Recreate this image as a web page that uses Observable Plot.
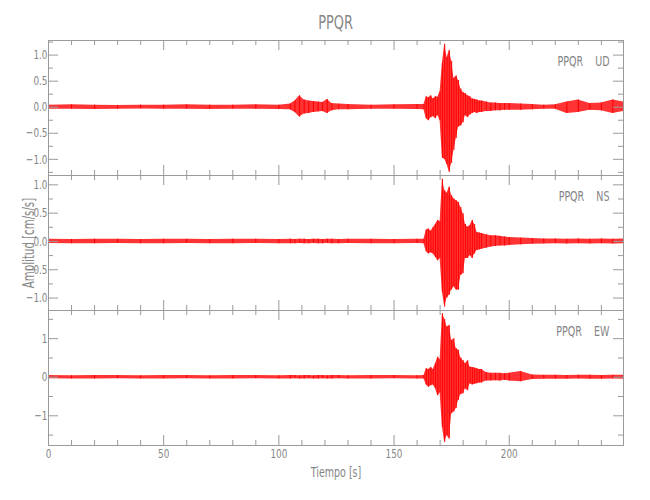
<!DOCTYPE html>
<html><head><meta charset="utf-8">
<script src="https://cdn.jsdelivr.net/npm/d3@7"></script>
<script src="https://cdn.jsdelivr.net/npm/@observablehq/plot@0.6"></script>
<style>
body{margin:0;background:#fff;}
#chart{position:relative;width:650px;height:500px;font-family:"DejaVu Sans",sans-serif;}
#chart svg{position:absolute;left:0;overflow:visible;}
#title{position:absolute;left:48px;width:575px;top:10px;line-height:24px;text-align:center;font-size:19px;color:#888;}
#title span{display:inline-block;transform:scaleX(0.68);transform-origin:center;}
</style></head><body>
<div id="chart"><div id="title"><span></span></div></div>
<script>
// ---- data ----
const station = "PPQR";
const components = ["UD", "NS", "EW"];
const xLabel = "Tiempo [s]";
const yLabel = "Amplitud [cm/s/s]";
const xMax = 249.6;
// time of each envelope sample [s]
const T = [0,10,20,30,40,50,60,70,80,90,100,
  105,107,109,111,113,115,117,119,121,123,
  126,130,140,150,160,163,
  164,165,166,167,168,169,170,171,172,173,174,175,176,177,178,179,180,181,182,183,184,185,186,187,188,
  190,192,194,196,198,200,
  205,210,215,220,225,230,235,240,245,249.6];
// UD envelope (max / min)
const udHi = [0.04,0.045,0.04,0.035,0.04,0.04,0.045,0.04,0.04,0.045,0.04,
  0.06,0.12,0.22,0.14,0.12,0.11,0.10,0.09,0.15,0.07,
  0.06,0.05,0.04,0.045,0.05,0.05,
  0.20,0.18,0.22,0.16,0.20,0.19,0.30,0.85,1.21,0.95,1.09,0.88,0.55,0.60,0.51,0.35,0.28,0.26,0.22,0.20,0.16,0.15,0.14,0.12,0.12,
  0.10,0.08,0.08,0.07,0.07,0.07,
  0.06,0.05,0.04,0.045,0.10,0.14,0.07,0.08,0.14,0.10];
const udLo = [-0.04,-0.04,-0.045,-0.04,-0.035,-0.04,-0.04,-0.045,-0.04,-0.04,-0.045,
  -0.05,-0.10,-0.19,-0.13,-0.12,-0.10,-0.09,-0.08,-0.12,-0.07,
  -0.05,-0.05,-0.04,-0.04,-0.045,-0.05,
  -0.22,-0.26,-0.20,-0.18,-0.22,-0.16,-0.26,-0.98,-1.00,-1.10,-1.25,-1.08,-0.83,-0.60,-0.38,-0.36,-0.30,-0.16,-0.20,-0.15,-0.12,-0.10,-0.12,-0.10,-0.10,
  -0.08,-0.08,-0.07,-0.07,-0.06,-0.06,
  -0.06,-0.05,-0.04,-0.04,-0.12,-0.10,-0.06,-0.07,-0.12,-0.08];
// NS envelope
const nsHi = [0.04,0.035,0.04,0.04,0.035,0.04,0.04,0.035,0.04,0.04,0.035,
  0.04,0.035,0.04,0.04,0.035,0.04,0.04,0.035,0.04,0.04,
  0.035,0.04,0.04,0.035,0.04,0.04,
  0.20,0.22,0.18,0.24,0.30,0.37,0.35,1.10,0.90,0.85,0.96,0.81,0.75,0.72,0.69,0.60,0.49,0.30,0.25,0.28,0.37,0.30,0.16,0.15,0.14,
  0.12,0.10,0.10,0.09,0.08,0.07,
  0.06,0.05,0.045,0.045,0.04,0.045,0.04,0.045,0.04,0.045];
const nsLo = [-0.035,-0.04,-0.04,-0.035,-0.04,-0.04,-0.035,-0.04,-0.04,-0.035,-0.04,
  -0.04,-0.04,-0.035,-0.04,-0.04,-0.035,-0.04,-0.04,-0.035,-0.04,
  -0.04,-0.035,-0.04,-0.04,-0.035,-0.04,
  -0.18,-0.22,-0.20,-0.22,-0.28,-0.34,-0.30,-0.90,-1.16,-1.00,-0.95,-0.86,-0.80,-0.86,-0.86,-0.60,-0.57,-0.30,-0.30,-0.25,-0.30,-0.22,-0.16,-0.15,-0.14,
  -0.12,-0.10,-0.09,-0.08,-0.08,-0.07,
  -0.06,-0.05,-0.045,-0.04,-0.045,-0.04,-0.045,-0.04,-0.045,-0.04];
// EW envelope
const ewHi = [0.045,0.04,0.045,0.045,0.04,0.045,0.045,0.04,0.045,0.045,0.04,
  0.045,0.045,0.04,0.045,0.045,0.04,0.045,0.045,0.04,0.045,
  0.045,0.04,0.045,0.045,0.04,0.045,
  0.22,0.20,0.25,0.20,0.35,0.52,0.45,1.65,1.50,1.30,1.34,0.95,1.00,0.74,0.70,0.50,0.43,0.35,0.43,0.26,0.25,0.24,0.22,0.20,0.20,
  0.12,0.10,0.10,0.10,0.09,0.10,
  0.15,0.06,0.05,0.05,0.045,0.05,0.05,0.045,0.05,0.05];
const ewLo = [-0.04,-0.045,-0.045,-0.04,-0.045,-0.045,-0.04,-0.045,-0.045,-0.04,-0.045,
  -0.045,-0.04,-0.045,-0.045,-0.04,-0.045,-0.045,-0.04,-0.045,-0.045,
  -0.04,-0.045,-0.045,-0.04,-0.045,-0.045,
  -0.20,-0.26,-0.22,-0.20,-0.30,-0.48,-0.40,-1.30,-1.69,-1.51,-1.60,-0.95,-0.90,-0.81,-0.60,-0.45,-0.43,-0.30,-0.35,-0.17,-0.20,-0.18,-0.17,-0.15,-0.15,
  -0.10,-0.10,-0.09,-0.10,-0.08,-0.10,
  -0.12,-0.06,-0.05,-0.05,-0.05,-0.045,-0.05,-0.05,-0.045,-0.05];
// axes
const yDomainUD = [-1.31, 1.28];
const yDomainNS = [-1.22, 1.165];
const yDomainEW = [-1.77, 1.73];
const yMajorAB = [-1, -0.5, 0, 0.5, 1];
const yMinorA = [-1.25, -0.75, -0.25, 0.25, 0.75, 1.25];
const yMinorB = [-0.75, -0.25, 0.25, 0.75];
const yMajorC = [-1, 0, 1];
const yMinorC = [-1.5, -0.5, 0.5, 1.5];
const xMajor = [0, 50, 100, 150, 200];
const xMinor = [10,20,30,40,60,70,80,90,110,120,130,140,160,170,180,190,210,220,230,240];

// ---- drawing ----
const W = 650, ML = 48, MR = 27, IH = 135, MT = 10;
const IW = W - ML - MR;
const GRAY = "#9a9a9a";
const RED = "#ff0000";
const SX = 0.68; // horizontal squeeze to mimic the narrow plotting font
const GAP = "\u00a0\u00a0\u00a0\u00a0";

function panel({comp, hi, lo, yDomain, yMajor, yMinor, yFmt, mb, extra}) {
  const rows = T.map((t, j) => ({t, hi: hi[j], lo: lo[j]}));
  return Plot.plot({
    width: W, height: MT + IH + mb,
    marginLeft: ML, marginRight: MR, marginTop: MT, marginBottom: mb,
    style: {background: "transparent", overflow: "visible", color: "#858585", fontFamily: '"DejaVu Sans",sans-serif', fontSize: "13px"},
    x: {domain: [0, xMax], axis: null},
    y: {domain: yDomain, axis: null},
    marks: [
      Plot.areaY(rows, {x: "t", y1: "lo", y2: "hi", fill: RED, fillOpacity: 0.8}),
      Plot.ruleX(rows, {x: "t", y1: "lo", y2: "hi", stroke: RED, strokeWidth: 1}),
      Plot.frame({stroke: GRAY}),
      Plot.tickY(yMajor, {y: d => d, insetRight: IW - 10, stroke: GRAY}),
      Plot.tickY(yMajor, {y: d => d, insetLeft: IW - 10, stroke: GRAY}),
      Plot.tickY(yMinor, {y: d => d, insetRight: IW - 5, stroke: GRAY}),
      Plot.tickY(yMinor, {y: d => d, insetLeft: IW - 5, stroke: GRAY}),
      Plot.tickX(xMajor, {x: d => d, insetBottom: IH - 10, stroke: GRAY}),
      Plot.tickX(xMajor, {x: d => d, insetTop: IH - 10, stroke: GRAY}),
      Plot.tickX(xMinor, {x: d => d, insetBottom: IH - 5, stroke: GRAY}),
      Plot.tickX(xMinor, {x: d => d, insetTop: IH - 5, stroke: GRAY}),
      Plot.text(yMajor, {y: d => d, text: d => yFmt(d), frameAnchor: "left", textAnchor: "end", lineAnchor: "middle", dx: -1, fontSize: 13}),
      Plot.text([station + GAP + comp], {text: d => d, frameAnchor: "top-right", textAnchor: "end", lineAnchor: "middle", dx: -14, dy: 21, fontSize: 14}),
      ...(extra || [])
    ]
  });
}

function squeeze(svg) {
  for (const t of svg.querySelectorAll("text")) {
    const len = t.getComputedTextLength();
    if (len > 0) {
      t.setAttribute("textLength", (len * SX).toFixed(2));
      t.setAttribute("lengthAdjust", "spacingAndGlyphs");
    }
  }
}

const f1 = d3.format(".1f");
const f0 = d3.format("d");
const chart = document.getElementById("chart");
document.querySelector("#title span").textContent = station;

const p1 = panel({comp: components[0], hi: udHi, lo: udLo, yDomain: yDomainUD, yMajor: yMajorAB, yMinor: yMinorA, yFmt: f1, mb: 10});
const p2 = panel({comp: components[1], hi: nsHi, lo: nsLo, yDomain: yDomainNS, yMajor: yMajorAB, yMinor: yMinorB, yFmt: f1, mb: 10,
  extra: [Plot.text([yLabel], {text: d => d, frameAnchor: "left", textAnchor: "middle", lineAnchor: "middle", rotate: -90, dx: -19, fontSize: 15})]});
const p3 = panel({comp: components[2], hi: ewHi, lo: ewLo, yDomain: yDomainEW, yMajor: yMajorC, yMinor: yMinorC, yFmt: f0, mb: 55,
  extra: [
    Plot.text(xMajor, {x: d => d, text: d => f0(d), frameAnchor: "bottom", textAnchor: "middle", lineAnchor: "middle", dy: 8, fontSize: 13}),
    Plot.text([xLabel], {text: d => d, frameAnchor: "bottom", textAnchor: "middle", lineAnchor: "middle", dy: 27, fontSize: 14})
  ]});
p1.style.top = (40 - MT) + "px";
p2.style.top = (175 - MT) + "px";
p3.style.top = (310 - MT) + "px";
chart.append(p1, p2, p3);
[p1, p2, p3].forEach(squeeze);
</script>
</body></html>
